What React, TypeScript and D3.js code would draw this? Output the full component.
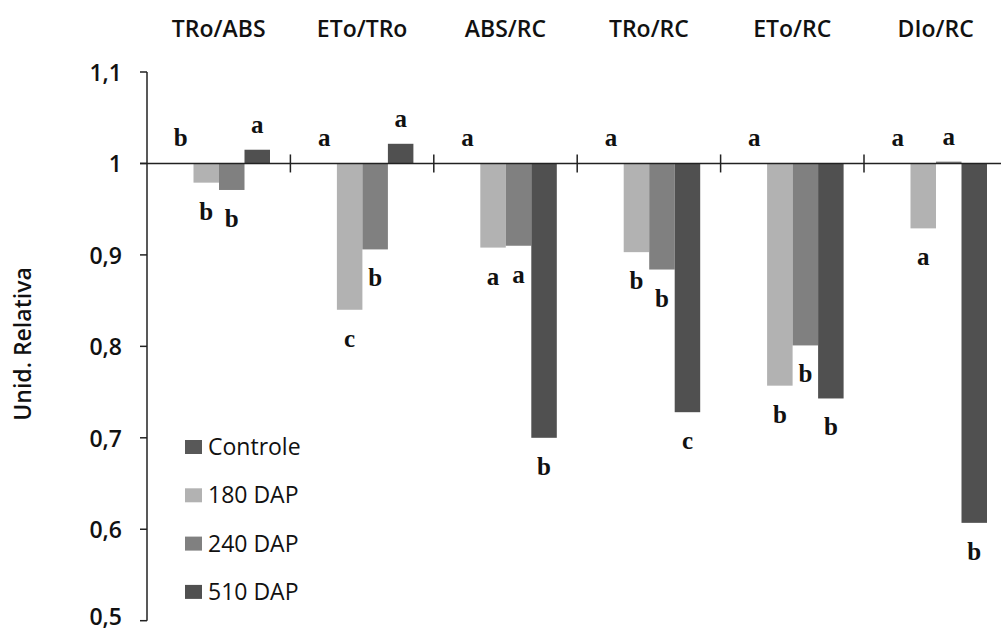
import React from "react";
import * as d3 from "d3";

const categories = ["TRo/ABS", "ETo/TRo", "ABS/RC", "TRo/RC", "ETo/RC", "DIo/RC"];
const seriesNames = ["Controle", "180 DAP", "240 DAP", "510 DAP"];
const controle = [1, 1, 1, 1, 1, 1];
const dap180 = [0.979, 0.84, 0.908, 0.903, 0.757, 0.929];
const dap240 = [0.971, 0.906, 0.91, 0.884, 0.801, 1.002];
const dap510 = [1.015, 1.0215, 0.7, 0.728, 0.743, 0.607];
const lettersControle = ["b", "a", "a", "a", "a", "a"];
const letters180 = ["b", "c", "a", "b", "b", "a"];
const letters240 = ["b", "b", "a", "b", "b", "a"];
const letters510 = ["a", "a", "b", "c", "b", "b"];
const yTicks = [0.5, 0.6, 0.7, 0.8, 0.9, 1, 1.1];
const colors = ["#585858", "#b2b2b2", "#808080", "#505050"];

const W = 1001;
const H = 631;

export default function App() {
  const values = [controle, dap180, dap240, dap510];
  const letters = [lettersControle, letters180, letters240, letters510];
  const y = d3.scaleLinear().domain([0.5, 1.1]).range([620.7, 72]);
  const x0 = d3.scaleBand<string>().domain(categories).range([147, 147 + 6 * 143.4]).padding(0);
  const x1 = d3.scaleBand<string>().domain(seriesNames).range([21, 123]).padding(0);
  const base = y(1);
  const fmt = (v: number) => (v === 1 ? "1" : d3.format(".1f")(v).replace(".", ","));
  const sans = "'Open Sans', sans-serif";
  const serif = "'Liberation Serif', 'Times New Roman', serif";

  return (
    <svg width={W} height={H} style={{ position: "absolute", left: 0, top: 0, background: "#fff" }}>
      {/* bars */}
      {categories.map((c, ci) =>
        seriesNames.map((s, si) => {
          const v = values[si][ci];
          const bx = (x0(c) as number) + (x1(s) as number);
          const top = Math.min(y(v), base);
          const h = Math.abs(y(v) - base);
          return <rect key={c + s} x={bx} y={top} width={x1.bandwidth()} height={h} fill={colors[si]} />;
        })
      )}
      {/* letters */}
      {categories.map((c, ci) =>
        seriesNames.map((s, si) => {
          const v = values[si][ci];
          const cx = (x0(c) as number) + (x1(s) as number) + x1.bandwidth() / 2;
          const ty = v >= 1 ? y(v) - 17 : y(v) + 37;
          return (
            <text key={"l" + c + s} x={cx} y={ty} textAnchor="middle" fontFamily={serif} fontWeight="bold" fontSize={25} fill="#111">
              {letters[si][ci]}
            </text>
          );
        })
      )}
      {/* x axis line at 1 */}
      <line x1={140} x2={W} y1={base} y2={base} stroke="#222" strokeWidth={1.5} />
      {categories.slice(1).map((c) => (
        <line key={"t" + c} x1={x0(c)} x2={x0(c)} y1={base - 9} y2={base + 9} stroke="#222" strokeWidth={1.5} />
      ))}
      {/* y axis */}
      <line x1={147} x2={147} y1={y(1.1)} y2={y(0.5)} stroke="#222" strokeWidth={1.5} />
      {yTicks.map((t) => (
        <g key={"y" + t}>
          <line x1={140} x2={147} y1={y(t)} y2={y(t)} stroke="#222" strokeWidth={1.5} />
          <text x={122} y={Math.min(y(t) + 9, 625)} textAnchor="end" fontFamily={sans} fontWeight={600} fontSize={23} fill="#111">
            {fmt(t)}
          </text>
        </g>
      ))}
      {/* category titles */}
      {categories.map((c) => (
        <text key={"c" + c} x={(x0(c) as number) + x0.bandwidth() / 2} y={37} textAnchor="middle" fontFamily={sans} fontWeight={600} fontSize={23} fill="#111">
          {c}
        </text>
      ))}
      {/* y title */}
      <text transform="translate(31,344) rotate(-90)" textAnchor="middle" fontFamily={sans} fontWeight={600} fontSize={23} fill="#111">
        Unid. Relativa
      </text>
      {/* legend */}
      {seriesNames.map((s, i) => (
        <g key={"lg" + s} transform={`translate(185,${447 + i * 48.3})`}>
          <rect x={0} y={-7} width={17} height={14} fill={colors[i]} />
          <text x={23} y={8} fontFamily={sans} fontWeight={500} fontSize={23} fill="#111">
            {s}
          </text>
        </g>
      ))}
    </svg>
  );
}
